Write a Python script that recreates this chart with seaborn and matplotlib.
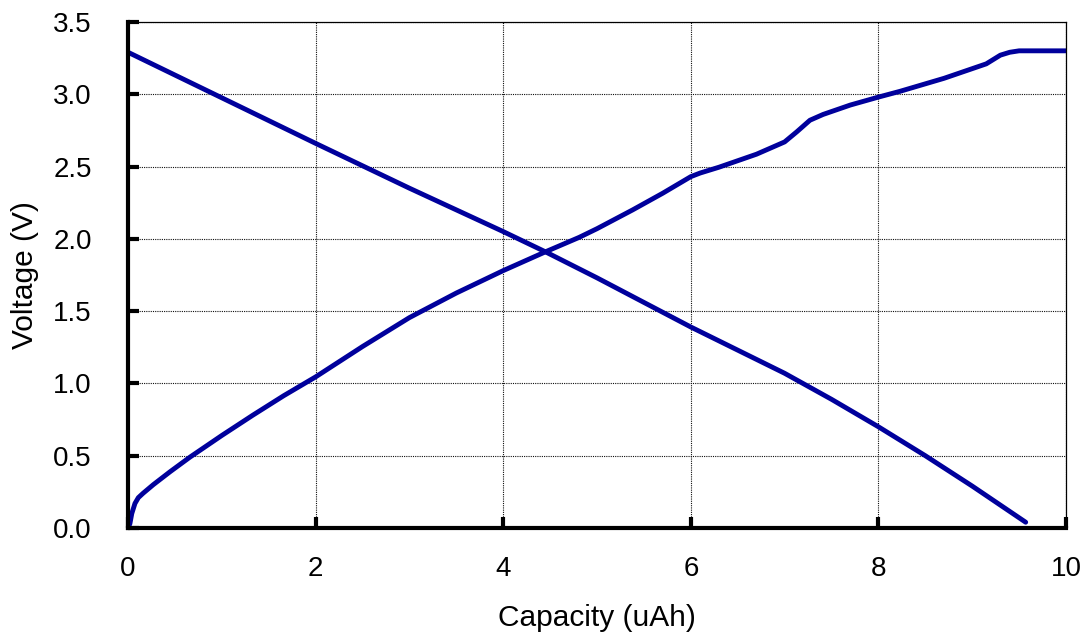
import numpy as np
import pandas as pd
import matplotlib
matplotlib.use("Agg")
import matplotlib.pyplot as plt
from matplotlib.ticker import FormatStrFormatter
import seaborn as sns

# charge curve (rising)
cap_charge = [0, 0.02, 0.04, 0.074, 0.11, 0.16, 0.27, 0.45, 0.66, 1.0, 1.33, 1.66, 2.0,
              2.5, 3.0, 3.5, 4.0, 4.45, 4.81, 5.0, 5.38, 5.7, 6.0, 6.1, 6.3, 6.7, 7.0,
              7.13, 7.27, 7.41, 7.7, 8.0, 8.23, 8.7, 9.15, 9.3, 9.4, 9.5, 10.0]
volt_charge = [0, 0.03, 0.10, 0.17, 0.21, 0.24, 0.30, 0.39, 0.49, 0.64, 0.78, 0.915, 1.045,
               1.255, 1.455, 1.625, 1.78, 1.91, 2.01, 2.07, 2.20, 2.315, 2.43, 2.455, 2.495, 2.585, 2.67,
               2.74, 2.82, 2.86, 2.925, 2.98, 3.02, 3.11, 3.21, 3.27, 3.29, 3.30, 3.30]

# discharge curve (falling)
cap_discharge = [0, 2, 3, 4, 4.45, 5, 5.5, 6, 6.5, 7, 7.5, 8, 8.5, 9, 9.57]
volt_discharge = [3.29, 2.66, 2.35, 2.05, 1.91, 1.73, 1.56, 1.39, 1.23, 1.07, 0.89,
                  0.70, 0.50, 0.29, 0.04]

x_ticks = [0, 2, 4, 6, 8, 10]
y_ticks = [0.0, 0.5, 1.0, 1.5, 2.0, 2.5, 3.0, 3.5]

LINE_COLOR = "#00009C"

sns.set_style("ticks")
plt.rcParams["font.family"] = ["Liberation Sans", "DejaVu Sans"]
plt.rcParams["text.color"] = "black"
plt.rcParams["axes.labelcolor"] = "black"
plt.rcParams["xtick.color"] = "black"
plt.rcParams["ytick.color"] = "black"
plt.rcParams["axes.edgecolor"] = "black"

df_charge = pd.DataFrame({"Capacity": cap_charge, "Voltage": volt_charge})
df_discharge = pd.DataFrame({"Capacity": cap_discharge, "Voltage": volt_discharge})

fig = plt.figure(figsize=(10.85, 6.35), dpi=100)
ax = fig.add_axes([0.118, 0.1685, 0.8645, 0.797])

for df in (df_charge, df_discharge):
    sns.lineplot(data=df, x="Capacity", y="Voltage", ax=ax, color=LINE_COLOR,
                 linewidth=3.5, sort=False, estimator=None, solid_capstyle="round",
                 solid_joinstyle="round")

ax.set_xlim(0, 10)
ax.set_ylim(0, 3.5)
ax.set_xticks(x_ticks)
ax.set_yticks(y_ticks)
ax.yaxis.set_major_formatter(FormatStrFormatter("%.1f"))

ax.grid(True, color="#111111", linestyle=(0, (1, 1)), linewidth=0.8)
ax.set_axisbelow(True)

for side in ("left", "bottom"):
    ax.spines[side].set_linewidth(3)
for side in ("top", "right"):
    ax.spines[side].set_linewidth(0.9)
    ax.spines[side].set_visible(True)

ax.tick_params(axis="both", direction="in", length=8, width=3, labelsize=20)
ax.tick_params(axis="x", pad=20)
ax.tick_params(axis="y", pad=26)

ax.set_xlabel("Capacity (uAh)", fontsize=21.5, labelpad=16)
ax.set_ylabel("Voltage (V)", fontsize=21.5, labelpad=10)

fig.savefig("out.png", dpi=100)
